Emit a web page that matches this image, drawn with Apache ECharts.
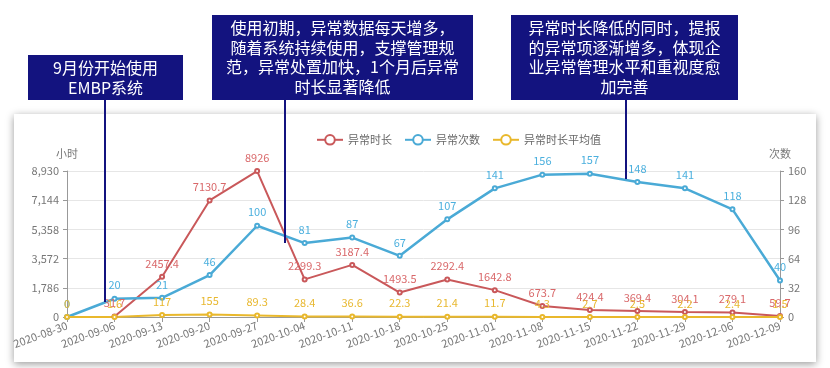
<!DOCTYPE html>
<html><head><meta charset="utf-8">
<script src="https://cdn.jsdelivr.net/npm/echarts@6/dist/echarts.min.js"></script>
<style>html,body{margin:0;padding:0;background:#fff}#c{width:830px;height:368px}</style>
</head><body><div id="c"></div>
<script>
const categories = ['2020-08-30','2020-09-06','2020-09-13','2020-09-20','2020-09-27','2020-10-04','2020-10-11','2020-10-18','2020-10-25','2020-11-01','2020-11-08','2020-11-15','2020-11-22','2020-11-29','2020-12-06','2020-12-09'];
const durationHours = [null, 31.7, 2457.4, 7130.7, 8926, 2299.3, 3187.4, 1493.5, 2292.4, 1642.8, 673.7, 424.4, 369.4, 304.1, 279.1, 59.7];
const counts = [0, 20, 21, 46, 100, 81, 87, 67, 107, 141, 156, 157, 148, 141, 118, 40];
const avgDuration = [0, 1.6, 117, 155, 89.3, 28.4, 36.6, 22.3, 21.4, 11.7, 4.3, 2.7, 2.5, 2.2, 2.4, 1.5];
const leftTicks = {min: 0, max: 8930, interval: 1786};
const rightTicks = {min: 0, max: 160, interval: 32};
const seriesNames = ['异常时长', '异常次数', '异常时长平均值'];
const notes = ['9月份开始使用\nEMBP系统',
  '使用初期，异常数据每天增多，\n随着系统持续使用，支撑管理规\n范，异常处置加快，1个月后异常\n时长显著降低',
  '异常时长降低的同时，提报\n的异常项逐渐增多，体现企\n业异常管理水平和重视度愈\n加完善'];

const chart = echarts.init(document.getElementById('c'));
const FONT = '"Noto Sans CJK SC", "Noto Sans", sans-serif';
const NAVY = '#13137f';
const axisLabel = {color: '#777', fontSize: 11, fontFamily: FONT};
function mkLabel(c){return {show: true, position: 'top', color: c, fontSize: 11, fontFamily: FONT};}
function box(x, y, w, h, text, lh){
  return [
    {type: 'rect', z: 100, shape: {x: x, y: y, width: w, height: h}, style: {fill: NAVY}},
    {type: 'text', z: 101, style: {text: text, x: x + w / 2, y: y + h / 2, fill: '#fff', font: '16px ' + FONT, align: 'center', verticalAlign: 'middle', lineHeight: lh}}
  ];
}
function vline(x, y1, y2){
  return {type: 'line', z: 100, shape: {x1: x, y1: y1, x2: x, y2: y2}, style: {stroke: NAVY, lineWidth: 2}};
}
chart.setOption({
  backgroundColor: '#fff',
  animation: false,
  textStyle: {fontFamily: FONT},
  graphic: [
    {type: 'rect', z: -10, shape: {x: 14, y: 114, width: 802, height: 248}, style: {fill: '#fff', shadowBlur: 8, shadowColor: 'rgba(0,0,0,0.4)', shadowOffsetY: 2}}
  ].concat(box(28, 55, 155, 45, notes[0], 20), box(212, 15, 261, 85, notes[1], 19.5), box(511, 15, 227, 85, notes[2], 19.5),
    [vline(105, 100, 302), vline(285, 100, 243), vline(626, 100, 179)]),
  legend: {
    data: seriesNames, top: 129, left: 311, itemGap: 12, itemWidth: 26, itemHeight: 12,
    textStyle: {color: '#666', fontSize: 11, fontFamily: FONT}
  },
  grid: {left: 67, right: 50, top: 171, bottom: 51},
  xAxis: {
    type: 'category', data: categories, boundaryGap: false,
    axisLine: {lineStyle: {color: '#999'}},
    axisTick: {show: true, lineStyle: {color: '#999'}},
    axisLabel: Object.assign({rotate: 20, margin: 8, interval: 0}, axisLabel)
  },
  yAxis: [
    {type: 'value', name: '小时', nameGap: 12, nameTextStyle: {color: '#777', fontSize: 11, align: 'center'},
     min: leftTicks.min, max: leftTicks.max, interval: leftTicks.interval,
     axisLine: {show: true, lineStyle: {color: '#999'}}, axisTick: {show: true, length: 4},
     splitLine: {lineStyle: {color: '#e6e6e6'}}, axisLabel: axisLabel},
    {type: 'value', name: '次数', nameGap: 12, nameTextStyle: {color: '#777', fontSize: 11, align: 'center'},
     min: rightTicks.min, max: rightTicks.max, interval: rightTicks.interval, position: 'right',
     axisLine: {show: true, lineStyle: {color: '#999'}}, axisTick: {show: true, length: 4},
     splitLine: {show: false}, axisLabel: axisLabel}
  ],
  series: [
    {name: seriesNames[0], type: 'line', yAxisIndex: 0, data: durationHours,
     symbol: 'emptyCircle', symbolSize: 4, color: '#c9585a',
     lineStyle: {width: 2, color: '#c9585a'}, itemStyle: {color: '#c9585a'}, label: mkLabel('#d9686a')},
    {name: seriesNames[1], type: 'line', yAxisIndex: 1, data: counts,
     symbol: 'emptyCircle', symbolSize: 4, color: '#4aaad6',
     lineStyle: {width: 2.5, color: '#4aaad6'}, itemStyle: {color: '#4aaad6'}, label: mkLabel('#4cb0de')},
    {name: seriesNames[2], type: 'line', yAxisIndex: 0, data: avgDuration,
     symbol: 'emptyCircle', symbolSize: 4, color: '#e9b82c',
     lineStyle: {width: 2, color: '#e9b82c'}, itemStyle: {color: '#e9b82c'}, label: mkLabel('#e8b830')}
  ]
});
</script></body></html>
